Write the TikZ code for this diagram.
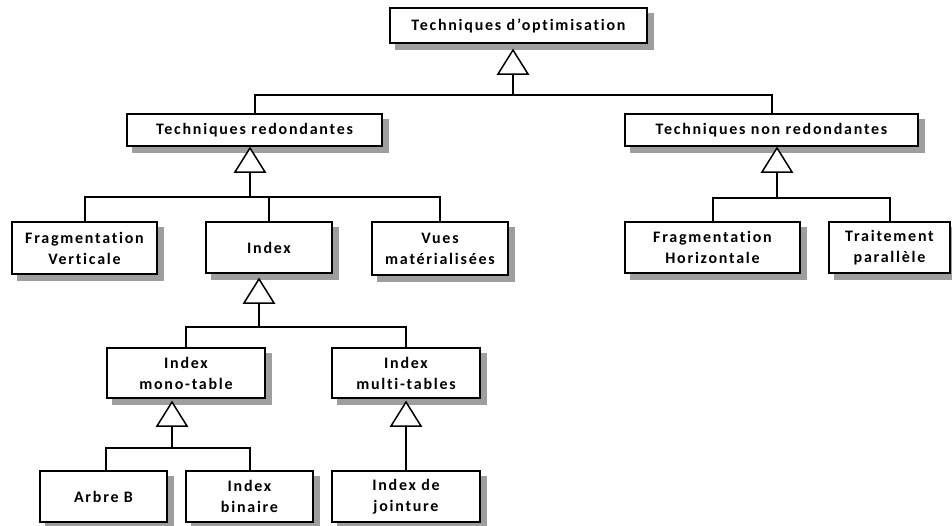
\documentclass[tikz,border=0pt]{standalone}
\usepackage{fontspec}
\setmainfont{Carlito}
\newfontfamily\boxfont[LetterSpace=11,RawFeature=-liga]{Carlito}
\usetikzlibrary{backgrounds,calc}
\begin{document}
\begin{tikzpicture}[x=1pt,y=-1pt,
  box/.style={draw=black, line width=2pt, fill=white, align=center,
    font=\boxfont\bfseries\fontsize{16}{21}\selectfont, inner sep=0pt},
  conn/.style={line width=2pt},
  tri/.style={draw=black, line width=1.5pt, fill=white, line join=miter}]
\useasboundingbox (0,0) rectangle (952,525);
% boxes
\node[box, minimum width=257pt, minimum height=35pt] (root) at (518.5,25.5) {Techniques d’optimisation};
\node[box, minimum width=255pt, minimum height=32pt] (tr) at (254.5,130) {Techniques redondantes};
\node[box, minimum width=293pt, minimum height=32pt] (tnr) at (771.5,130) {Techniques non redondantes};
\node[box, minimum width=145pt, minimum height=52pt] (fv) at (84.5,248) {Fragmentation\\Verticale};
\node[box, minimum width=126pt, minimum height=51pt] (idx) at (269,247.5) {Index};
\node[box, minimum width=136pt, minimum height=53pt] (vm) at (440,248.5) {Vues\\matérialisées};
\node[box, minimum width=175pt, minimum height=51pt] (fh) at (712.5,247.5) {Fragmentation\\Horizontale};
\node[box, minimum width=121pt, minimum height=51pt] (tp) at (889.5,247.5) {Traitement\\parallèle};
\node[box, minimum width=158pt, minimum height=50pt] (imono) at (186,373) {Index\\mono-table};
\node[box, minimum width=148pt, minimum height=50pt] (imulti) at (406,373) {Index\\multi-tables};
\node[box, minimum width=127pt, minimum height=51pt] (ab) at (103.5,496.5) {Arbre B};
\node[box, minimum width=127pt, minimum height=51pt] (ib) at (249.5,496.5) {Index\\binaire};
\node[box, minimum width=148pt, minimum height=51pt] (ij) at (406,496.5) {Index de\\jointure};
% shadows
\begin{scope}[on background layer]
\foreach \n in {root,tr,tnr,fv,idx,vm,fh,tp,imono,imulti,ab,ib,ij}
  \fill[black!38] ($(\n.north west)+(6,6)$) rectangle ($(\n.south east)+(6,6)$);
\end{scope}
% triangle apexes
\coordinate (a0) at (513,50);
\coordinate (a1) at (250,148);
\coordinate (a2) at (777,148);
\coordinate (a3) at (259,279);
\coordinate (a4) at (172,402);
\coordinate (a5) at (406,402);
\foreach \a in {a0,a1,a2,a3,a4,a5} {
  \draw[tri] (\a) -- ++(-15,24) -- ++(30,0) -- cycle;
  \coordinate (\a b) at ($(\a)+(0,24)$);
}
% connectors
\draw[conn] (a0b) -- ++(0,21) coordinate (j0);
\draw[conn] (j0) -| (tr.north);
\draw[conn] (j0) -| (tnr.north);
\draw[conn] (a1b) -- ++(0,25) coordinate (j1);
\draw[conn] (j1) -| (fv.north);
\draw[conn] (j1) -| (idx.north);
\draw[conn] (j1) -| (vm.north);
\draw[conn] (a2b) -- ++(0,26) coordinate (j2);
\draw[conn] (j2) -| (fh.north);
\draw[conn] (j2) -| (tp.north);
\draw[conn] (a3b) -- ++(0,24) coordinate (j3);
\draw[conn] (j3) -| (imono.north);
\draw[conn] (j3) -| (imulti.north);
\draw[conn] (a4b) -- ++(0,22) coordinate (j4);
\draw[conn] (j4) -| ([xshift=2pt]ab.north);
\draw[conn] (j4) -| (ib.north);
\draw[conn] (a5b) -- (ij.north);
\end{tikzpicture}
\end{document}
